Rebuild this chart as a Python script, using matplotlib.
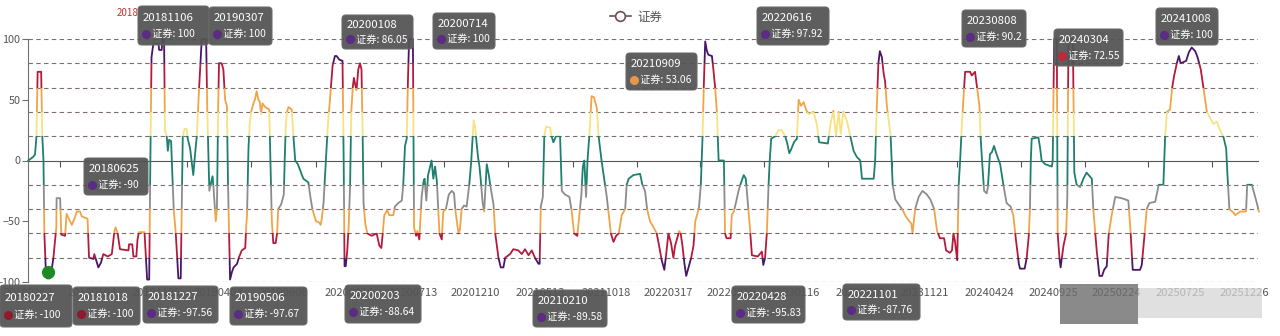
import matplotlib
matplotlib.use("Agg")
import matplotlib.pyplot as plt
import pandas as pd
from matplotlib.lines import Line2D
from matplotlib.patches import Rectangle, FancyBboxPatch

plt.rcParams["font.family"] = ["Noto Sans CJK SC", "DejaVu Sans"]

START = pd.Timestamp("2018-01-02")

# turning points of the line, x in weeks since START
weeks = [
    0.1, 1.8, 2.4, 2.9, 3.3, 4.5, 4.9, 5.3, 5.6, 6.1, 6.5, 7.4, 8.1, 8.7, 9.5, 9.7, 9.8, 11.0, 11.4, 12.7,
    13.2, 14.4, 15.0, 15.9, 16.7, 17.8, 18.4, 20.4, 20.9, 22.4, 22.7, 24.1, 25.0, 25.8, 27.3, 28.7, 29.6, 30.0,
    30.7, 31.5, 34.4, 34.6, 35.7, 36.1, 37.1, 37.5, 38.0, 39.9, 40.4, 40.8, 41.5, 41.9, 42.3, 42.9, 44.7, 44.9,
    45.8, 46.0, 46.6, 46.9, 47.5, 47.9, 48.3, 49.0, 49.4, 49.9, 50.6, 51.5, 52.3, 53.0, 53.6, 54.3, 54.7, 55.5,
    56.1, 56.6, 57.2, 57.8, 58.6, 59.5, 61.0, 61.4, 62.1, 62.7, 63.2, 63.6, 64.3, 64.7, 65.1, 65.4, 66.3, 66.9,
    67.5, 68.1, 68.5, 69.2, 69.8, 70.4, 71.6, 72.2, 73.2, 74.4, 74.7, 75.0, 75.5, 75.9, 76.4, 77.2, 77.7, 78.3,
    78.9, 79.4, 79.8, 80.3, 81.2, 82.6, 83.0, 83.5, 84.0, 84.8, 85.3, 85.7, 86.7, 87.6, 87.9, 88.3, 88.7, 89.2,
    90.3, 90.9, 91.5, 92.4, 93.2, 94.3, 96.0, 96.7, 97.4, 98.1, 98.6, 99.7, 100.2, 100.6, 101.2, 102.0, 102.7,
    103.4, 104.3, 105.1, 105.7, 106.6, 107.7, 108.1, 108.4, 108.8, 109.3, 109.8, 110.3, 110.7, 111.2, 111.6,
    112.1, 112.5, 113.1, 113.7, 114.2, 114.6, 114.9, 115.5, 116.2, 117.7, 119.4, 120.3, 121.0, 121.4, 122.0,
    123.0, 123.7, 125.1, 125.6, 126.8, 128.0, 128.5, 129.1, 129.7, 130.1, 130.5, 131.8, 132.2, 132.9, 133.3,
    134.0, 134.8, 135.4, 135.8, 136.4, 137.0, 137.7, 138.2, 138.8, 139.4, 140.0, 140.9, 141.7, 142.2, 143.1,
    144.1, 145.1, 145.9, 146.3, 147.4, 147.9, 148.5, 149.3, 150.2, 151.1, 151.8, 152.3, 152.6, 153.1, 153.4,
    154.1, 154.6, 155.0, 155.7, 156.2, 157.1, 157.8, 158.4, 159.4, 160.0, 161.1, 161.9, 162.8, 163.4, 165.1,
    166.2, 167.9, 169.1, 170.2, 171.4, 172.5, 173.6, 174.8, 175.2, 175.6, 176.3, 176.8, 177.4, 178.8, 179.3,
    179.9, 180.8, 182.2, 182.8, 183.9, 185.4, 186.2, 187.0, 188.1, 188.8, 189.5, 190.0, 190.5, 191.1, 191.6,
    192.2, 193.0, 193.8, 194.8, 195.4, 196.4, 197.3, 198.2, 198.9, 199.6, 200.5, 201.4, 202.3, 203.3, 204.5,
    205.0, 205.7, 207.3, 209.6, 210.4, 211.3, 212.0, 213.0, 214.2, 215.3, 216.1, 217.0, 217.9, 218.5, 219.3,
    220.2, 221.0, 221.6, 222.2, 223.0, 223.5, 224.1, 224.8, 225.4, 226.2, 227.1, 227.9, 228.5, 229.1, 229.8,
    230.4, 231.0, 231.4, 231.9, 232.5, 233.0, 234.2, 234.7, 235.3, 235.9, 236.2, 236.5, 238.3, 238.7, 239.2,
    240.6, 241.0, 241.7, 242.4, 243.3, 244.2, 245.1, 245.8, 246.5, 247.2, 247.9, 249.9, 250.6, 251.3, 251.8,
    252.4, 253.0, 253.6, 254.0, 254.5, 255.9, 257.0, 258.1, 259.3, 260.0, 260.7, 261.3, 262.3, 263.3, 263.9,
    264.7, 265.6, 266.4, 267.3, 269.0, 270.1, 270.9, 273.9, 274.8, 275.8, 276.7, 277.6, 278.3, 279.2, 280.4,
    281.6, 282.7, 283.8, 285.0, 285.6, 289.6, 290.1, 290.6, 291.2, 291.7, 292.4, 293.0, 293.5, 294.1, 294.9,
    295.4, 296.1, 297.0, 298.1, 299.3, 300.6, 301.8, 302.5, 302.9, 303.8, 305.0, 306.3, 307.8, 309.0, 310.3,
    311.3, 312.3, 313.7, 314.4, 315.7, 316.4, 316.9, 317.4, 318.2, 318.7, 319.2, 319.7, 320.3, 320.9, 322.6,
    323.2, 324.3, 324.9, 325.8, 326.2, 326.7, 327.4, 328.3, 328.7, 329.4, 330.1, 330.8, 331.7, 332.9, 334.0,
    335.1, 336.5, 337.4, 338.3, 339.3, 339.7, 341.3, 342.0, 342.7, 343.1, 343.4, 343.7, 346.0, 346.6, 347.1,
    348.3, 350.6, 350.9, 351.4, 352.3, 352.6, 353.2, 353.6, 354.6, 355.5, 355.9, 356.3, 357.8, 358.3, 359.1,
    360.3, 361.4, 362.5, 364.3, 364.8, 366.0, 366.9, 367.8, 368.5, 369.4, 370.1, 371.1, 372.3, 374.5, 376.8,
    377.6, 378.3, 380.8, 381.4, 382.2, 383.1, 384.0, 386.0, 386.5, 387.2, 388.8, 389.4, 390.0, 391.1, 391.8,
    392.5, 393.4, 394.1, 394.7, 396.6, 397.5, 398.5, 399.7, 400.5, 401.6, 402.5, 403.7, 404.8, 405.9, 407.1,
    408.2, 409.3, 410.3, 410.7, 411.4, 412.8, 413.4, 415.1, 417.1, 417.5, 419.1, 419.9, 420.8, 421.5,
]
scores = [
    0, 3, 5, 20, 73, 73, 20, 0, -60, -90, -97, -97, -90, -80, -60, -55, -31, -31, -61, -62,
    -44, -50, -53, -48, -42, -42, -46, -48, -80, -81, -77, -88, -84, -77, -79, -77, -58, -55,
    -60, -73, -74, -69, -69, -79, -79, -65, -59, -59, -80, -98, -98, 0, 85, 96, 96, 91,
    91, 100, 100, 25, 20, 8, 17, 16, -10, -40, -60, -97, -97, 20, 26, 26, 18, 10,
    -2, -12, 5, 20, 60, 100, 100, 40, -25, -18, -13, -25, -50, -40, 40, 80, 80, 75,
    50, 45, -20, -98, -92, -88, -85, -80, -74, -72, -55, -45, 10, 30, 40, 47, 50, 57,
    50, 48, 38, 47, 44, 42, 0, -50, -68, -68, -60, -40, -36, -28, 0, 30, 40, 44,
    42, 20, 0, -3, -8, -15, -18, -30, -40, -46, -50, -51, -53, -48, -35, 0, 30,
    50, 78, 86, 86, 83, 82, 0, -87, -87, -75, -55, -20, 40, 60, 68,
    62, 58, 75, 80, 75, 20, -35, -52, -60, -62, -60, -70, -72, -62, -45,
    -41, -45, -45, -38, -35, -33, -20, 12, 18, 65, 100, 100, -55, -62, -58,
    -65, -30, -18, -15, -33, -12, -5, 0, -15, -5, -17, -60, -65, -42, -40,
    -28, -25, -27, -40, -60, -57, -40, -37, -38, -20, 0, 20, 33, 28, 20,
    3, -5, -15, -35, -42, -3, -12, -22, -36, -60, -80, -88, -88, -80, -77,
    -73, -74, -77, -73, -78, -74, -80, -85, -85, -38, -30, 20, 28, 27, 20,
    15, 20, 20, -25, -28, -30, -42, -60, -62, -45, -28, -5, 0, -30, 0,
    20, 53, 52, 43, 20, 0, -15, -30, -45, -60, -67, -62, -60, -45, -40,
    -20, -15, -12, -11, -20, -25, -40, -50, -55, -60, -70, -82, -90, -78, -60,
    -68, -80, -70, -65, -58, -60, -70, -85, -95, -88, -80, -70, -50, -45, -38,
    -20, 20, 60, 98, 90, 87, 86, 75, 60, 40, 20, 0, 0, -60, -64,
    -64, -45, -42, -35, -25, -18, -12, -15, -35, -55, -78, -79, -77, -75, -86,
    -80, -60, -20, 0, 18, 20, 25, 25, 20, 14, 6, 9, 15, 18, 50,
    45, 48, 42, 38, 40, 30, 15, 14, 30, 41, 20, 40, 22, 40, 33,
    20, 8, 3, 0, -15, -15, 0, 40, 80, 90, 85, 72, 65, 45, 30,
    20, -20, -32, -36, -40, -46, -50, -52, -60, -40, -30, -25, -28, -32, -40,
    -58, -64, -64, -74, -76, -74, -60, -66, -82, -20, 0, 25, 50, 73, 73,
    70, 73, 62, 45, 20, 0, -25, -27, -22, 5, 7, 12, 5, -3, -20,
    -35, -38, -45, -65, -85, -89, -89, -80, -62, -40, 0, 18, 19, 10, 0,
    -3, -5, 0, 100, 100, -60, -80, -88, -70, -60, -30, 100, 100, -10, -20,
    -22, -15, -10, -15, -40, -75, -95, -95, -90, -87, -60, -45, -30, -31, -33,
    -60, -90, -90, -86, -65, -40, -35, -34, -28, -20, -20, 20, 40, 42, 60,
    70, 80, 86, 80, 82, 89, 93, 90, 85, 75, 60, 40, 35, 30, 32,
    25, 20, 10, -10, -40, -43, -45, -42, -42, -20, -20, -27, -35, -42,
]

axis_dates = [
    "20180102", "20180604", "20181105", "20190404", "20190906", "20200210", "20200713",
    "20201210", "20210513", "20211018", "20220317", "20220816", "20230116", "20230619",
    "20231121", "20240424", "20240925", "20250224", "20250725", "20251226",
]

marker_week = 6.7
marker_score = -92

tip_dates = [
    "20181106", "20190307", "20200108", "20200714", "20210909", "20220616", "20230808",
    "20240304", "20241008", "20180625", "20180227", "20181018", "20181227", "20190506",
    "20200203", "20210210", "20220428", "20221101",
]
tip_values = [
    "100", "100", "86.05", "100", "53.06", "97.92", "90.2", "72.55", "100", "-90",
    "-100", "-100", "-97.56", "-97.67", "-88.64", "-89.58", "-95.83", "-87.76",
]

PURPLE = "#4a1668"
CRIMSON = "#b51a3c"
ORANGE = "#f0a448"
PALE = "#f7e281"
TEAL = "#1d7f6e"
GREY = "#8c8c8c"

tip_colors = [
    "#5b2c83", "#5b2c83", "#5b2c83", "#5b2c83", "#e9964d", "#5b2c83", "#5b2c83",
    "#c0283c", "#5b2c83", "#5b2c83", "#8e1b2c", "#8e1b2c", "#5b2c83", "#5b2c83",
    "#5b2c83", "#5b2c83", "#5b2c83", "#5b2c83",
]
# tooltip boxes in pixels: left, top, width, height
tip_boxes = [
    (138, 6, 71, 39), (209, 7, 63, 38), (342, 15, 71, 34), (433, 13, 62, 36),
    (626, 53, 71, 37), (757, 7, 72, 38), (962, 10, 64, 37), (1054, 29, 69, 37),
    (1156, 8, 62, 37), (84, 158, 64, 37), (0, 285, 72, 42), (73, 287, 67, 38),
    (143, 286, 75, 37), (230, 287, 77, 38), (345, 285, 76, 38), (533, 290, 74, 37),
    (732, 286, 73, 37), (843, 284, 77, 36),
]

bands = [
    (80, 105, PURPLE), (60, 80, CRIMSON), (40, 60, ORANGE), (20, 40, PALE),
    (-20, 20, TEAL), (-40, -20, GREY), (-60, -40, ORANGE), (-80, -60, CRIMSON),
    (-105, -80, PURPLE),
]

W, H = 1280, 336


def fx(x):
    return x / W


def fy(y):
    return 1 - y / H


def week_of(date_str):
    return (pd.Timestamp(date_str) - START).days / 7.0


fig = plt.figure(figsize=(W / 100, H / 100), dpi=100)
ax = fig.add_axes([fx(28), fy(282), fx(1258) - fx(28), fy(39) - fy(282)])
x_max = 421.2
ax.set_xlim(0, x_max)
ax.set_ylim(-100, 100)

for level in range(-100, 101, 20):
    if level == 0:
        continue
    ax.axhline(level, color="#7d6e6e", lw=0.8, ls=(0, (4, 3)), zorder=1)

for lo, hi, color in bands:
    (line,) = ax.plot(weeks, scores, color=color, lw=1.3, zorder=3, solid_joinstyle="round")
    clip = Rectangle((-1, lo), x_max + 2, hi - lo, transform=ax.transData)
    line.set_clip_box(None)
    line.set_clip_path(clip)

ax.plot([marker_week], [marker_score], "o", color="#1f8a24", ms=8.5, zorder=4)

for side in ("top", "right"):
    ax.spines[side].set_visible(False)
ax.spines["left"].set_color("#6e7079")
ax.spines["bottom"].set_position(("data", 0))
ax.spines["bottom"].set_color("#555555")
ax.spines["bottom"].set_zorder(2)

ax.set_yticks([-100, -50, 0, 50, 100])
ax.tick_params(axis="y", length=4, width=0.8, color="#6e7079", labelsize=7.8,
               labelcolor="#555555", pad=1.5)

label_pos = [week_of(d) for d in axis_dates]
ax.set_xticks(label_pos)
ax.set_xticklabels(axis_dates)
ax.set_xticks([(a + b) / 2 for a, b in zip(label_pos[:-1], label_pos[1:])], minor=True)
ax.tick_params(axis="x", which="major", length=0, pad=92, labelsize=8, labelcolor="#555555")
ax.tick_params(axis="x", which="minor", length=4, width=0.8, color="#555555")

# legend
handle = Line2D([], [], color="#6b4f4f", lw=1.2, marker="o", ms=7, mfc="white", mew=1.2)
fig.legend([handle], ["证券"], loc="center", bbox_to_anchor=(fx(636), fy(17)),
           frameon=False, fontsize=9, handlelength=1.7, handletextpad=0.5,
           labelcolor="#555555")

fig.text(fx(117), fy(13), "2018", color="#c23531", fontsize=7, va="center")

# tooltips
for date, val, color, (x0, y0, bw, bh) in zip(tip_dates, tip_values, tip_colors, tip_boxes):
    box = FancyBboxPatch((fx(x0), fy(y0 + bh)), bw / W, bh / H,
                         boxstyle="round,pad=0,rounding_size=0.003",
                         mutation_aspect=W / H, transform=fig.transFigure,
                         facecolor="#555555", edgecolor="#6a6a6a", lw=0.8,
                         alpha=0.95, zorder=5)
    fig.add_artist(box)
    fig.text(fx(x0 + 5), fy(y0 + bh * 0.3), date, color="white", fontsize=8.2,
             va="center", ha="left", zorder=6)
    fig.add_artist(Line2D([fx(x0 + 8)], [fy(y0 + bh * 0.72)], marker="o", ms=5.5,
                          color=color, transform=fig.transFigure, zorder=6))
    fig.text(fx(x0 + 14), fy(y0 + bh * 0.72), "证券: " + val, color="white",
             fontsize=7.4, va="center", ha="left", zorder=6)

# blurred watermark in the lower right corner
fig.add_artist(Rectangle((fx(1060), fy(324)), 78 / W, 40 / H, transform=fig.transFigure,
                         facecolor="#6d6d6d", edgecolor="none", alpha=0.8, zorder=5))
fig.add_artist(Rectangle((fx(1138), fy(318)), 124 / W, 30 / H, transform=fig.transFigure,
                         facecolor="#d6d6d6", edgecolor="none", alpha=0.75, zorder=5))

fig.savefig("out.png", dpi=100)
